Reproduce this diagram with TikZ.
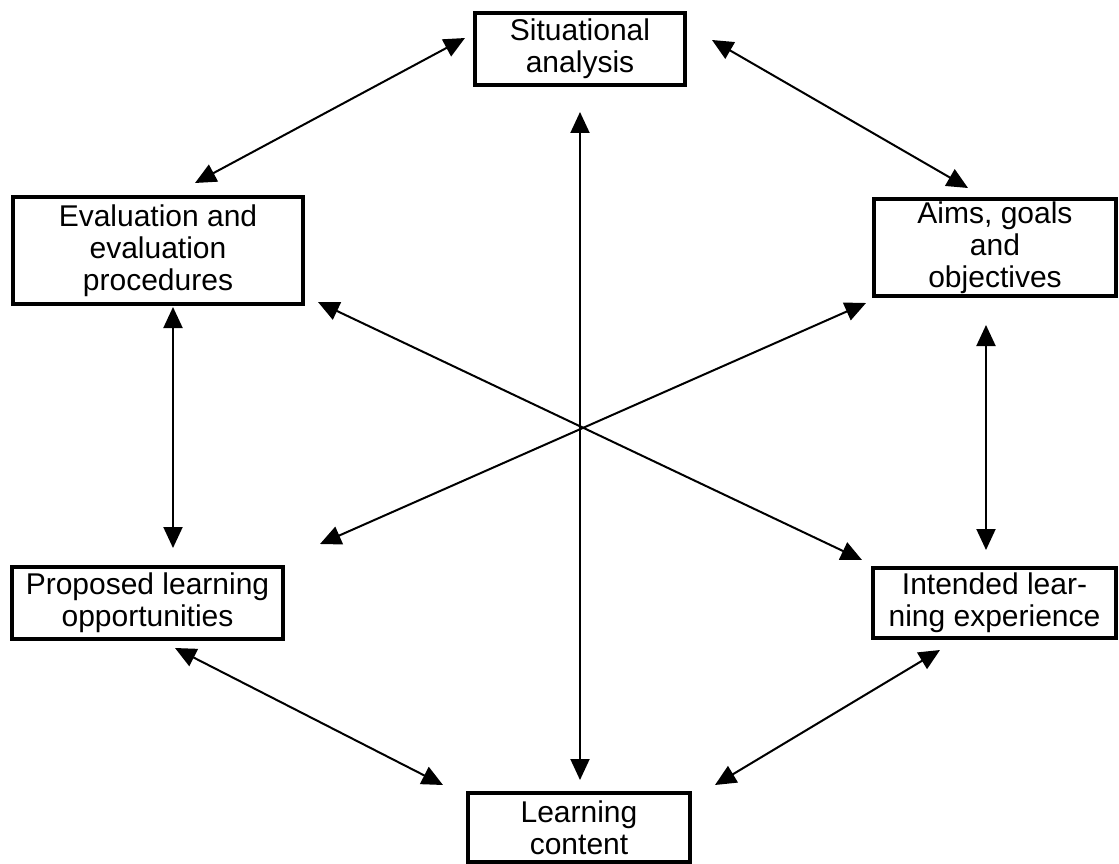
\documentclass[tikz,border=0pt]{standalone}
\usepackage{fontspec}
\setmainfont{Liberation Sans}
\usetikzlibrary{arrows.meta}
\begin{document}
\begin{tikzpicture}[x=1pt,y=-1pt,
  box/.style={draw=black, line width=3.2pt, inner sep=0pt, align=center,
    font=\fontsize{30}{32}\selectfont},
  link/.style={line width=2pt, {Triangle[length=21pt,width=19pt]}-{Triangle[length=21pt,width=19pt]}}]
\useasboundingbox (0,0) rectangle (1119,864);
% boxes
\node[box, minimum width=210pt, minimum height=72pt] (sit) at (580,49) {Situational\\analysis};
\node[box, minimum width=290pt, minimum height=107pt] (eval) at (158,250.5) {Evaluation and\\evaluation\\procedures};
\node[box, minimum width=242pt, minimum height=97pt] (aims) at (995,247.5) {Aims, goals\\and\\objectives};
\node[box, minimum width=271pt, minimum height=72pt] (prop) at (147.5,603) {Proposed learning\\opportunities};
\node[box, minimum width=243pt, minimum height=70pt] (int) at (994.5,603) {Intended lear-\\ning experience};
\node[box, minimum width=222pt, minimum height=69pt] (learn) at (579,827.5) {Learning\\content};
% arrow ends
\coordinate (sitL) at (465,38);
\coordinate (sitR) at (712,40);
\coordinate (sitB) at (580,112);
\coordinate (evalT) at (195,183);
\coordinate (evalB) at (173,307);
\coordinate (evalR) at (318,302);
\coordinate (aimsT) at (968,188);
\coordinate (aimsB) at (986,325);
\coordinate (aimsL) at (866,303);
\coordinate (propT) at (173,548);
\coordinate (propR) at (320,544);
\coordinate (propB) at (175,648);
\coordinate (intT) at (986,550);
\coordinate (intL) at (862,560);
\coordinate (intB) at (940,650);
\coordinate (learnT) at (580,780);
\coordinate (learnL) at (443,785);
\coordinate (learnR) at (715,785);
% connectors
\draw[link] (sitL) -- (evalT);
\draw[link] (sitR) -- (aimsT);
\draw[link] (sitB) -- (learnT);
\draw[link] (evalB) -- (propT);
\draw[link] (aimsB) -- (intT);
\draw[link] (evalR) -- (intL);
\draw[link] (aimsL) -- (propR);
\draw[link] (propB) -- (learnL);
\draw[link] (intB) -- (learnR);
\end{tikzpicture}
\end{document}
